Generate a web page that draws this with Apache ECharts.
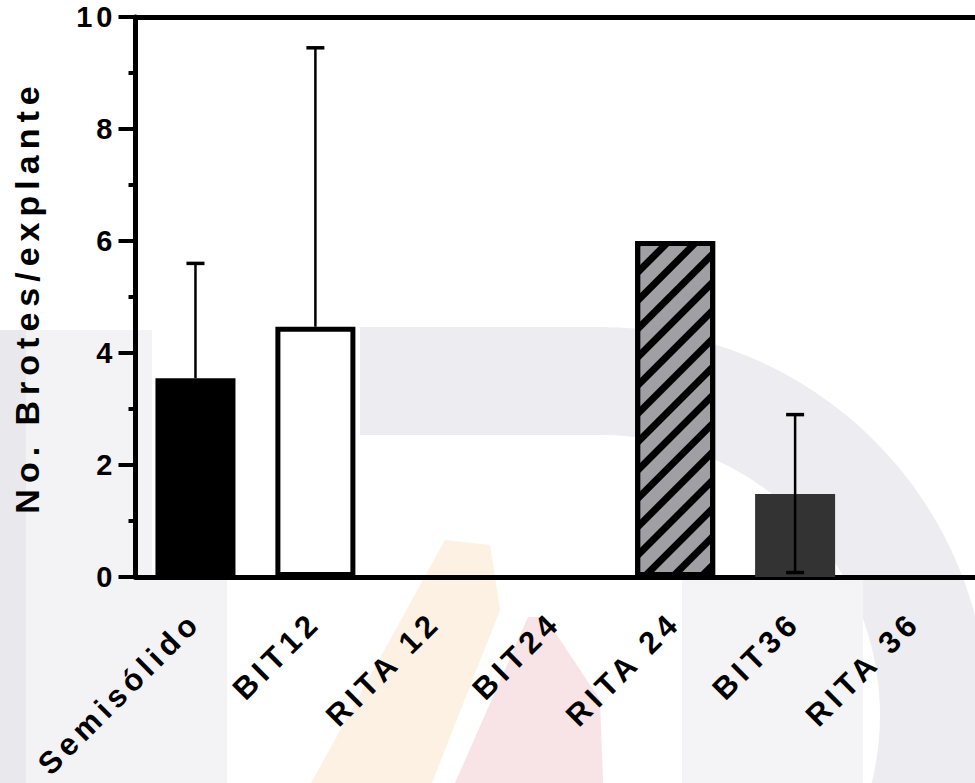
<!DOCTYPE html>
<html><head><meta charset="utf-8">
<script src="https://cdn.jsdelivr.net/npm/echarts@6/dist/echarts.min.js"></script>
<style>
html,body{margin:0;padding:0;background:#fff}
#chart{width:975px;height:783px}
#chart text[style*="34px"]{letter-spacing:6px}
#chart text[style*="31px"]{letter-spacing:5px}
#chart text[style*="29px"]{letter-spacing:4px}
</style></head><body><div id="chart"></div>
<script>
const categories = ['Semisólido', 'BIT12', 'RITA 12', 'BIT24', 'RITA 24', 'BIT36', 'RITA 36'];
const means = [3.55, 4.47, 0, 0, 6.0, 1.48, 0];
const errUpper = [2.05, 4.98, 0, 0, 0, 1.42, 0];
const errLower = [0, 0, 0, 0, 0, 1.40, 0];
const yTitle = 'No. Brotes/explante';
const yMin = 0, yMax = 10, yStep = 2;

const FONT = 'Liberation Sans, Arial, sans-serif';
const barStyles = [
  {color: '#000000', borderColor: '#000000', borderWidth: 8},
  {color: '#ffffff', borderColor: '#000000', borderWidth: 5},
  {color: '#ffffff', borderColor: '#000000', borderWidth: 5},
  {color: '#ffffff', borderColor: '#000000', borderWidth: 5},
  {color: '#a0a0a4', borderColor: '#000000', borderWidth: 5,
   decal: {symbol: 'rect', symbolSize: 1, dashArrayX: [1, 0], dashArrayY: [7, 13], rotation: -Math.PI / 4, color: '#000000'}},
  {color: '#333333', borderColor: '#333333', borderWidth: 8},
  {color: '#ffffff', borderColor: '#000000', borderWidth: 5}
];

// faint background watermark (decoration only)
const wm = [
  {type: 'rect', shape: {x: 0, y: 330, width: 26, height: 453}, style: {fill: '#e8e8ed'}},
  {type: 'rect', shape: {x: 26, y: 330, width: 126, height: 453}, style: {fill: '#f3f3f6'}},
  {type: 'rect', shape: {x: 152, y: 580, width: 75, height: 203}, style: {fill: '#f3f3f6'}},
  {type: 'rect', shape: {x: 360, y: 327, width: 240, height: 108}, style: {fill: '#ededf1'}},
  {type: 'ring', shape: {cx: 600, cy: 715, r: 388, r0: 280}, style: {fill: '#ededf1'}},
  {type: 'rect', shape: {x: 600, y: 720, width: 400, height: 80}, style: {fill: 'rgba(0,0,0,0)'}},
  {type: 'rect', shape: {x: 682, y: 580, width: 181, height: 203}, style: {fill: '#f4f4f7'}},
  {type: 'polygon', shape: {points: [[445, 540], [490, 545], [500, 610], [432, 783], [311, 783]]}, style: {fill: '#fdf1e4'}},
  {type: 'polygon', shape: {points: [[528, 617], [545, 617], [600, 700], [603, 783], [455, 783]]}, style: {fill: '#f8e4e7'}}
];
// keep only the right half of the ring (it opens to the left into the bar)
wm[4] = {type: 'sector', shape: {cx: 600, cy: 715, r: 388, r0: 280, startAngle: -Math.PI / 2, endAngle: Math.PI / 2}, style: {fill: '#ededf1'}};
wm.splice(5, 1);
wm.forEach(g => { g.z = -100; g.silent = true; });

const chart = echarts.init(document.getElementById('chart'), null, {renderer: 'svg'});
chart.setOption({
  animation: false,
  backgroundColor: '#ffffff',
  textStyle: {fontFamily: FONT},
  graphic: wm,
  grid: {left: 135.5, right: -6.5, top: 17, bottom: 206, containLabel: false},
  xAxis: [{
    type: 'category', data: categories, position: 'bottom',
    axisLine: {lineStyle: {color: '#000', width: 5}},
    axisTick: {alignWithLabel: true, length: 14, lineStyle: {color: '#000', width: 4}},
    axisLabel: {interval: 0, rotate: 45, margin: 40, fontSize: 31, fontWeight: 'bold', color: '#000', fontFamily: FONT}
  }, {
    type: 'category', data: categories, position: 'top',
    axisLine: {lineStyle: {color: '#000', width: 5}},
    axisTick: {show: false}, axisLabel: {show: false}
  }],
  yAxis: {
    type: 'value', min: yMin, max: yMax, interval: yStep,
    name: yTitle, nameLocation: 'middle', nameGap: 92,
    nameTextStyle: {fontSize: 34, fontWeight: 'bold', color: '#000', fontFamily: FONT},
    axisLine: {show: true, lineStyle: {color: '#000', width: 5}},
    axisTick: {show: true, length: 17, lineStyle: {color: '#000', width: 4}},
    minorTick: {show: true, splitNumber: 2, length: 7, lineStyle: {color: '#000', width: 4}},
    splitLine: {show: false},
    axisLabel: {margin: 19, fontSize: 29, fontWeight: 'bold', color: '#000', fontFamily: FONT}
  },
  series: [{
    type: 'bar', barWidth: 80, z: 2,
    data: means.map((v, i) => ({
      value: v,
      itemStyle: v === 0 ? {color: 'rgba(0,0,0,0)', borderWidth: 0} : barStyles[i]
    }))
  }, {
    type: 'custom', z: 5,
    encode: {x: 0, y: 1},
    data: categories.map((c, i) => [i, means[i], errUpper[i], errLower[i]]),
    renderItem: function (params, api) {
      const x = api.value(0), m = api.value(1), up = api.value(2), lo = api.value(3);
      if (!up && !lo) return null;
      const top = api.coord([x, m + up]);
      const mid = api.coord([x, m]);
      const bot = api.coord([x, m - lo]);
      const cw = 9;
      const st = {stroke: '#000', lineWidth: 2.5};
      const cap = {stroke: '#000', lineWidth: 3.5};
      const ch = [];
      if (up) {
        ch.push({type: 'line', shape: {x1: mid[0], y1: mid[1], x2: top[0], y2: top[1]}, style: st});
        ch.push({type: 'line', shape: {x1: top[0] - cw, y1: top[1], x2: top[0] + cw, y2: top[1]}, style: cap});
      }
      if (lo) {
        ch.push({type: 'line', shape: {x1: mid[0], y1: mid[1], x2: bot[0], y2: bot[1]}, style: st});
        ch.push({type: 'line', shape: {x1: bot[0] - cw, y1: bot[1], x2: bot[0] + cw, y2: bot[1]}, style: cap});
      }
      return {type: 'group', children: ch};
    }
  }]
});
</script></body></html>
